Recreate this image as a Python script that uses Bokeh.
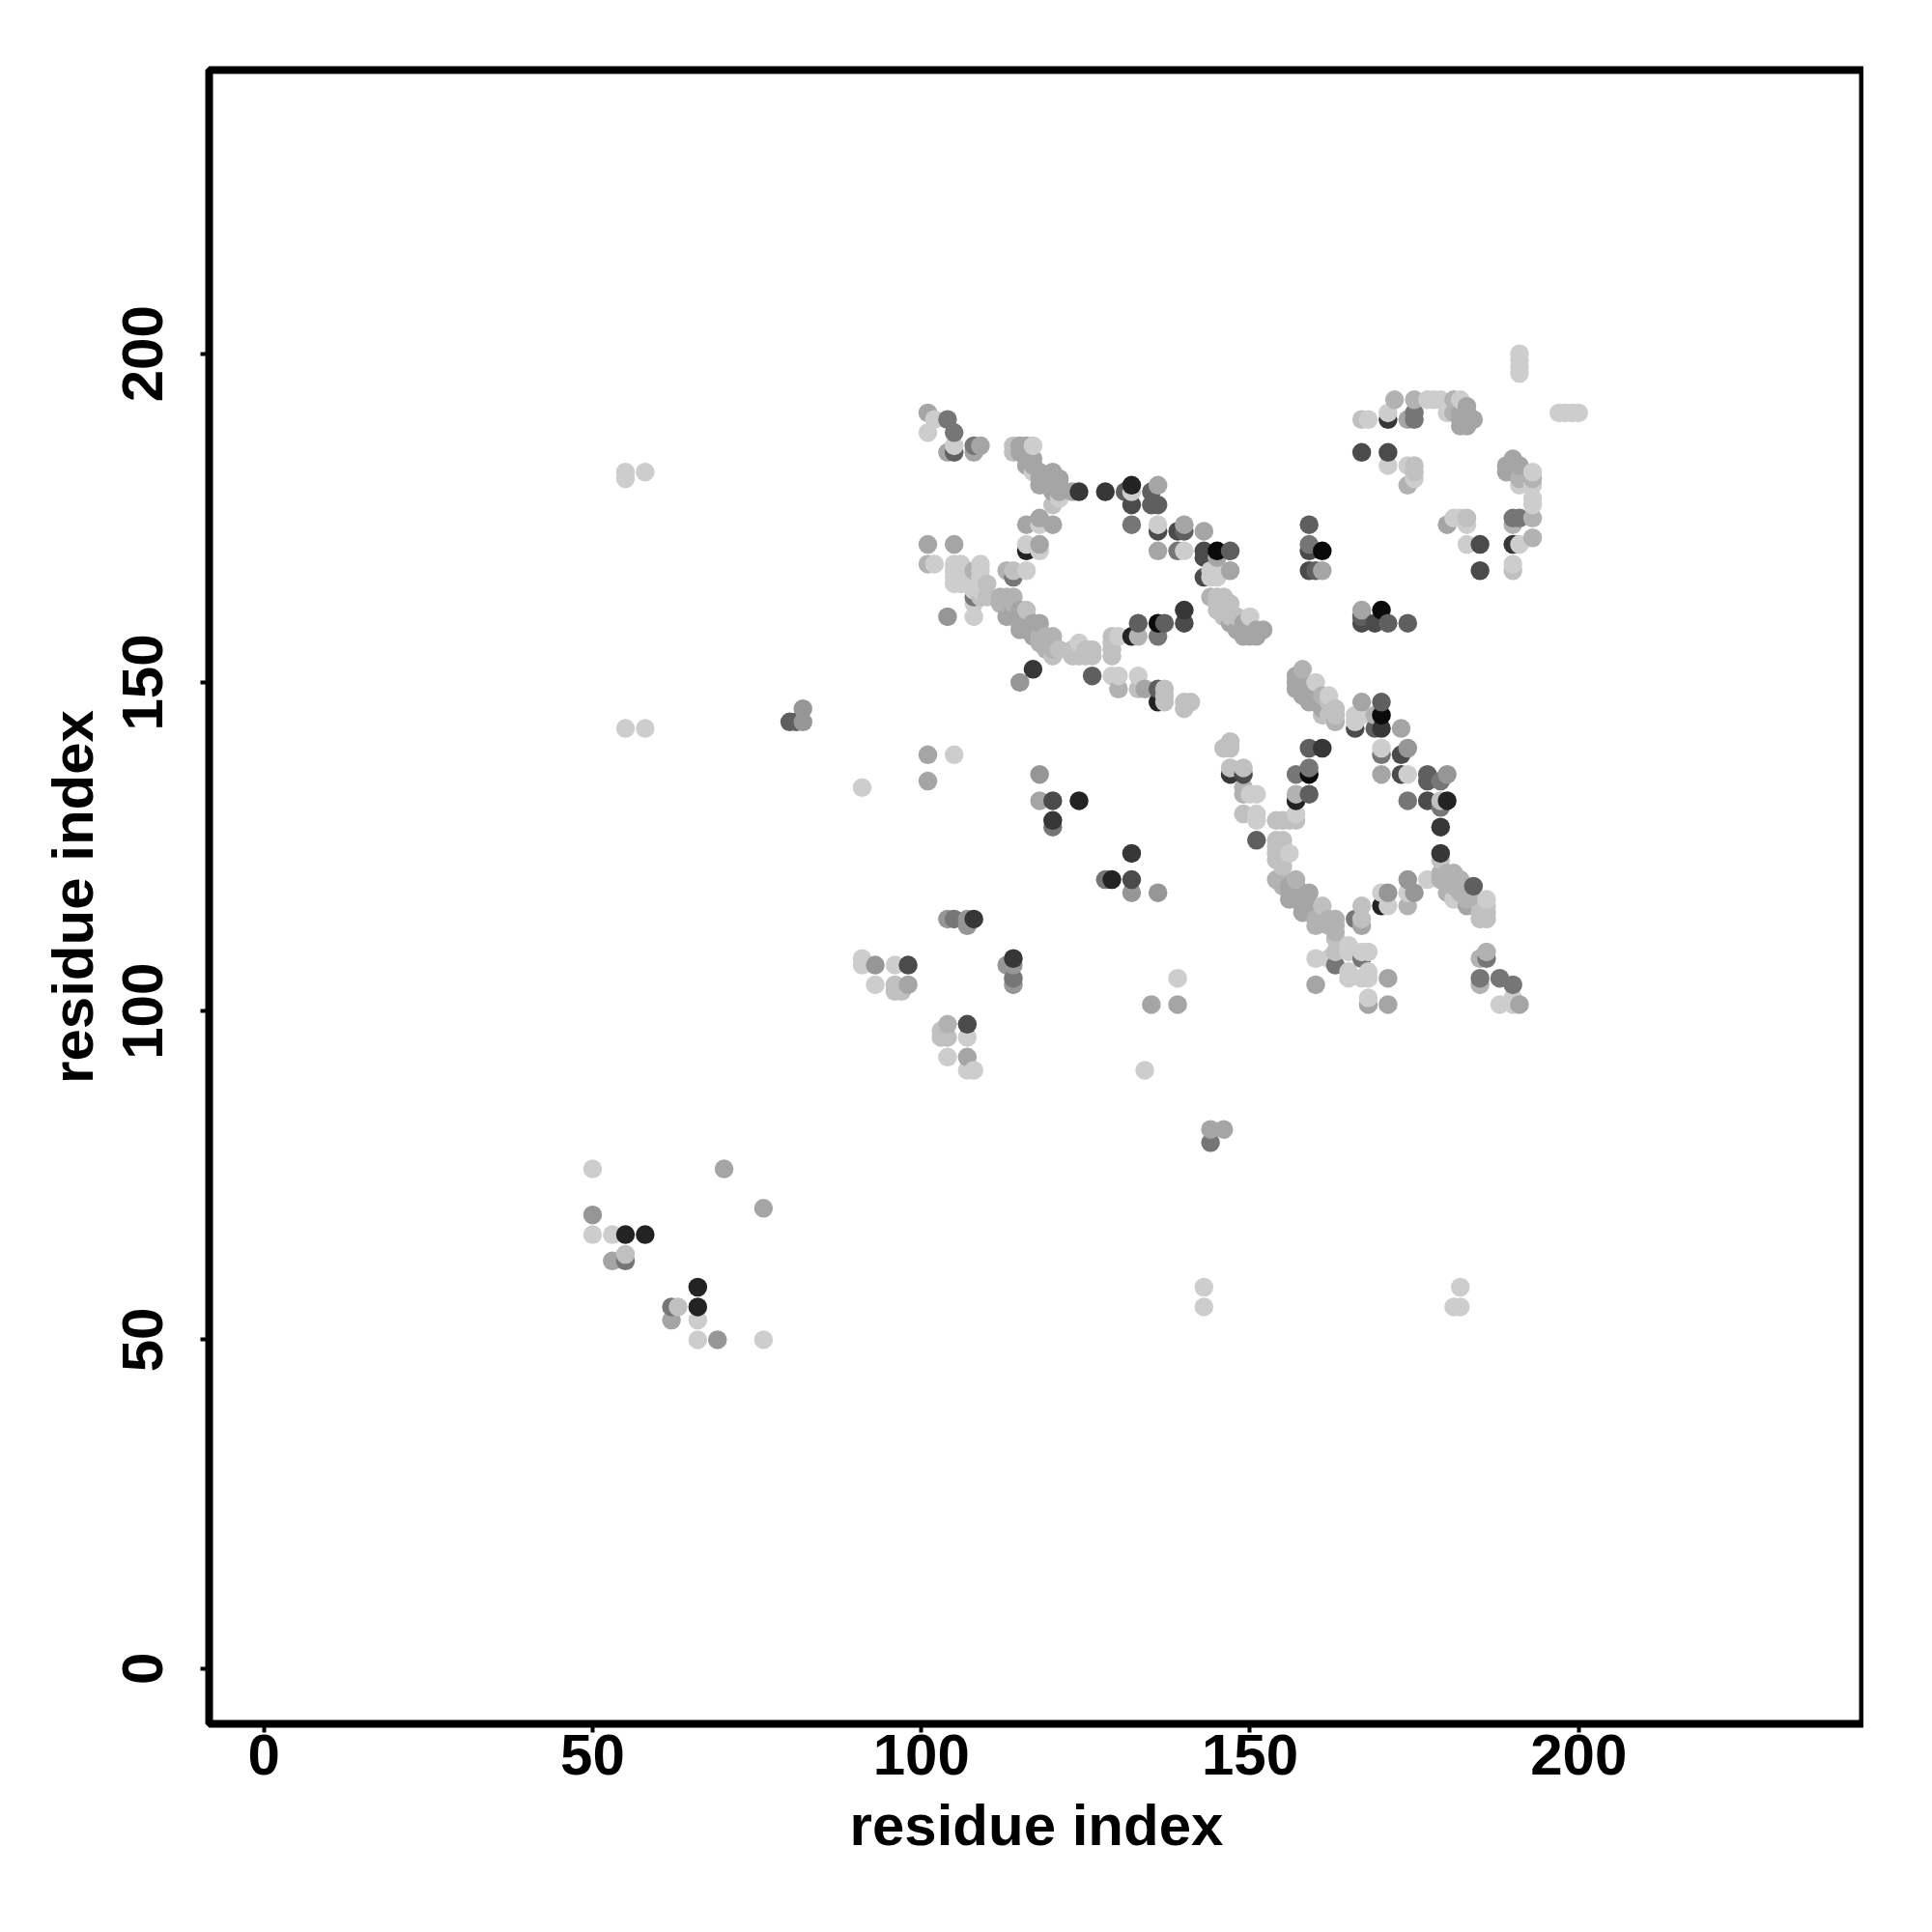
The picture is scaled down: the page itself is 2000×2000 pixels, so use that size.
import numpy as np
from bokeh.plotting import figure
from bokeh.embed import file_html
from bokeh.resources import INLINE
from bokeh.models import FixedTicker, Range1d

x_ticks = [0, 50, 100, 150, 200]
y_ticks = [0, 50, 100, 150, 200]
axis_title = "residue index"

# contacts grouped by grey level: (residue i, residue j)
i_205 = [102,101,105,117,117,121,132,136,102,105,106,109,105,106,109,105,106,109,105,106,107,109,108,109,108,108,116,118,118,116,124,130,129,130,133,140,144,145,145,144,150,
 177,178,179,182,180,171,168,171,174,175,191,193,193,193,193,181,182,183,191,183,190,197,198,199,200,191,191,191,191,
 160,162,166,167,166,170,174,150,151,151,151,157,156,177,170,171,174,181,186,165,165,167,168,160,162,165,165,168,168,167,168,139,188,190,190,
 105,91,91,91,96,93,107,104,107,108,134,50,50,53,66,66,76,55,55,58,55,58,143,143,182,181,182]
j_205 = [190,188,186,186,182,178,179,174,168,168,168,168,167,167,167,166,166,166,165,165,165,165,164,164,162,160,171,170,174,167,156,157,151,151,151,170,166,167,166,167,160,
 193,193,193,193,191,191,190,183,183,181,180,182,180,178,177,175,175,174,171,171,168,191,191,191,191,197,198,199,200,
 150,148,145,145,144,140,136,133,133,130,129,130,124,120,118,116,118,117,117,110,109,109,109,108,108,106,105,106,105,105,102,105,101,102,101,
 139,134,108,107,107,104,96,93,91,91,91,76,66,66,53,50,50,182,181,182,143,143,58,55,58,55,55]

i_192 = [114,114,167,110,109,110,114,116,129,129,129,129,124,125,125,123,121,120,137,137,137,133,147,183,175,175,147,147,147,146,149,149,154,155,156,157,154,155,154,155,154,154,155,155,163,163,167,167,161,163,162,161,162,163,186,186,186,185,185,179,179,103,103,104,96,96,97,55,63,140,141,140,145,146,145,145,146,146,147,148,126,126,123,120,190]
j_192 = [186,185,190,165,163,163,167,161,157,156,155,154,154,155,154,154,155,154,149,148,147,149,162,175,183,182,141,140,137,140,137,130,129,129,129,129,126,126,125,125,124,123,123,122,111,109,116,114,116,146,147,145,145,145,116,115,114,115,114,123,132,97,96,96,104,103,103,63,55,147,147,146,163,163,162,161,162,160,160,160,155,154,155,177,167]

i_178 = [101,130,108,113,112,113,112,113,114,114,120,120,120,119,119,119,118,118,144,172,175,181,181,193,193,193,191,174,158,161,163,169,149,149,157,154,155,155,157,163,163,163,162,161,160,160,162,186,185,185,104,180,179,179,180,181,181,182,180,181,182,183,182,183,184,133,174,190]
j_178 = [168,149,167,167,163,163,162,162,163,162,157,156,155,155,156,157,157,156,163,193,193,193,191,175,172,181,181,180,152,148,144,145,134,133,133,120,120,119,120,114,113,112,114,114,114,113,113,109,108,104,98,121,121,120,120,121,120,120,118,119,119,118,118,117,117,157,116,174]

i_165 = [101,117,118,115,116,115,116,117,117,114,115,114,115,116,113,109,136,140,134,145,147,149,148,149,150,149,150,151,151,152,183,182,183,184,182,183,182,183,174,190,189,190,191,189,190,180,161,167,
 157,157,157,158,158,158,159,159,159,160,160,161,167,173,170,156,157,156,157,156,157,159,158,159,158,159,167,171,160,168,171,139,135,191,183,
 101,101,118,98,107,70,76,53,62,
 104,108,115,116,116,115,116,117,116,117,118,120,121,118,119,120,118,119,120,121,121,120,123,116,120,118,101,105,118,136,143,147,144,146]
j_165 = [191,158,159,158,158,159,159,159,157,161,161,160,160,160,160,186,180,174,149,169,159,159,158,158,158,157,157,157,158,158,192,191,191,190,190,190,189,189,190,184,183,183,183,182,182,174,167,161,
 151,150,149,150,149,148,149,148,147,148,147,146,147,143,136,119,119,118,118,117,117,118,116,116,115,115,113,105,104,101,101,101,101,101,116,
 139,135,132,104,93,76,70,62,53,
 185,185,186,186,185,185,184,184,183,183,182,182,181,181,181,181,180,180,180,180,179,179,179,174,174,175,171,171,171,170,173,167,82,82]

i_150 = [104,115,174,180,171,175,174,118,132,136,104,107,107,93,113,114,114,50,69,82,82]
j_150 = [160,150,140,136,118,118,120,136,118,118,114,114,113,107,107,107,104,69,50,146,144]

i_118 = [104,105,108,114,108,132,139,159,175,175,170,174,179,179,166,163,167,186,185,188,190,120,128,105,114,55,62,144,136,157,159,190,191]
j_118 = [190,188,186,166,163,174,170,171,191,190,139,132,131,135,114,107,108,108,105,105,104,128,120,114,105,62,55,80,157,136,137,175,175]

i_95 = [105,131,135,126,136,140,147,133,137,159,160,171,174,167,169,177,177,159,159,184,151,135,136,80,81,170,167]
j_95 = [185,179,179,151,149,173,170,159,159,174,167,159,159,160,143,136,135,140,133,119,126,177,177,144,144,147,160]

i_75 = [143,136,139,159,159,167,171,185,185,167,173,173,177,149,120,132,143,143,98,107,132,169,140,166]
j_75 = [169,173,173,170,167,185,185,171,167,159,139,136,132,136,132,120,170,166,107,98,177,159,159,143]

i_55 = [124,128,117,140,171,190,161,170,179,179,147,120,132,108,114]
j_55 = [179,179,152,161,190,171,140,143,128,124,136,129,124,114,108]

i_35 = [132,116,132,180,157,170,124,129,55,58,66,66,136]
j_35 = [180,170,157,132,132,116,132,120,66,66,58,55,147]

i_10 = [136,145,161,170,170,159]
j_10 = [159,170,170,161,145,136]

groups = [(205,i_205,j_205),(192,i_192,j_192),(178,i_178,j_178),(165,i_165,j_165),(150,i_150,j_150),
          (118,i_118,j_118),(95,i_95,j_95),(75,i_75,j_75),(55,i_55,j_55),(35,i_35,j_35),(10,i_10,j_10)]
xs, ys, gs = [], [], []
for g, a, b in groups:
    assert len(a) == len(b), (g, len(a), len(b))
    xs += a; ys += b; gs += [g]*len(a)
xs, ys, gs = np.array(xs), np.array(ys), np.array(gs)
order = np.lexsort((ys, xs))
colors = [f"#{g:02x}{g:02x}{g:02x}" for g in gs[order]]

FRAME_L, FRAME_R, FRAME_T, FRAME_B = 216, 1929, 72, 1784
X0, Y0, U = 272.7, 1726.7, 6.805

p = figure(width=1984, height=1984, output_backend="svg", toolbar_location=None,
           x_range=Range1d((FRAME_L-X0)/U, (FRAME_R-X0)/U),
           y_range=Range1d((Y0-FRAME_B)/U, (Y0-FRAME_T)/U),
           frame_width=FRAME_R-FRAME_L, frame_height=FRAME_B-FRAME_T,
           min_border_left=FRAME_L, min_border_top=FRAME_T,
           min_border_right=0, min_border_bottom=0,
           background_fill_color="white", border_fill_color="white")
p.grid.visible = False
p.outline_line_color = "black"
p.outline_line_width = 8
p.scatter(xs[order], ys[order], size=19.5, color=colors, line_color=None, marker="circle")

for ax, ticks in ((p.xaxis[0], x_ticks), (p.yaxis[0], y_ticks)):
    ax.ticker = FixedTicker(ticks=ticks)
    ax.axis_line_color = None
    ax.major_tick_in = 0
    ax.major_tick_out = 9
    ax.major_tick_line_width = 4
    ax.major_tick_line_color = "black"
    ax.minor_tick_line_color = None
    ax.major_label_text_font = "Liberation Sans"
    ax.major_label_text_font_style = "bold"
    ax.major_label_text_font_size = "60px"
    ax.major_label_text_color = "black"
    ax.axis_label = axis_title
    ax.axis_label_text_font = "Liberation Sans"
    ax.axis_label_text_font_style = "bold"
    ax.axis_label_text_font_size = "60px"
    ax.axis_label_text_color = "black"
p.yaxis[0].major_label_orientation = "vertical"
p.xaxis[0].major_label_standoff = 2
p.yaxis[0].major_label_standoff = 39
p.xaxis[0].axis_label_standoff = 16
p.yaxis[0].axis_label_standoff = 16

open("out.html", "w").write(file_html(p, INLINE))
